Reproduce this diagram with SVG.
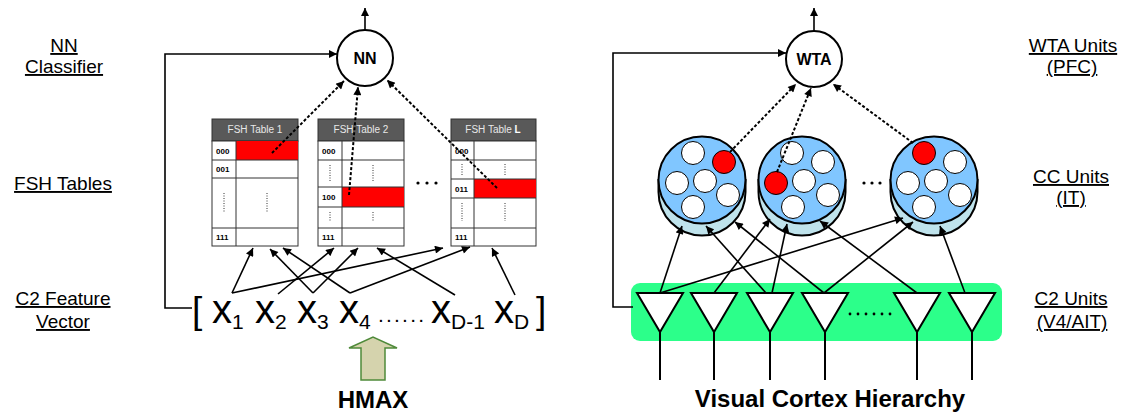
<svg xmlns="http://www.w3.org/2000/svg" width="1123" height="416" viewBox="0 0 1123 416">
<defs>
<style>
.lbl{font-family:"Liberation Sans",Arial,sans-serif;font-size:19px;fill:#000;text-anchor:middle;text-decoration:underline}
.big{font-family:"Liberation Sans",Arial,sans-serif;font-size:24px;font-weight:bold;fill:#000;text-anchor:middle}
.node{fill:#fff;stroke:#000;stroke-width:2}
.ntxt{font-family:"Liberation Sans",Arial,sans-serif;font-size:16px;font-weight:bold;text-anchor:middle}
.hdr{fill:#595959;stroke:#333;stroke-width:1}
.htxt{font-family:"Liberation Sans",Arial,sans-serif;font-size:10px;fill:#e8e8e8;text-anchor:middle}
.body{fill:#fff;stroke:#333;stroke-width:1}
.grid{stroke:#333;stroke-width:1}
.red{fill:#ff0000}
.code{font-family:"Liberation Sans",Arial,sans-serif;font-size:8px;font-weight:bold;fill:#000}
.vd{stroke:#333;stroke-width:1;stroke-dasharray:1 1.5}
.sol{fill:none;stroke:#000;stroke-width:1.6}
.dot{fill:none;stroke:#000;stroke-width:2;stroke-dasharray:3 2}
.vec{font-family:"Liberation Sans",Arial,sans-serif;font-size:40px;fill:#000}
.brk{font-family:"Liberation Sans",Arial,sans-serif;font-size:37px;fill:#000}
.sub{font-family:"Liberation Sans",Arial,sans-serif;font-size:21px;fill:#000}
.cyl{fill:#bfe3ec;stroke:#000;stroke-width:2}
.cct{fill:#80c6ff;stroke:#000;stroke-width:2}
.w{fill:#fff;stroke:#000;stroke-width:1}
.r{fill:#ff0000;stroke:#000;stroke-width:1}
.tri{fill:#fff;stroke:#000;stroke-width:2}
</style>
<marker id="ah" viewBox="0 0 10 10" refX="10" refY="5" markerWidth="10" markerHeight="8" markerUnits="userSpaceOnUse" orient="auto"><path d="M0,0 L10,5 L0,10 z" fill="#000"/></marker>
</defs>
<rect width="1123" height="416" fill="#fff"/>

<!-- Left labels -->
<g id="left-labels">
<text class="lbl" x="64" y="52">NN</text>
<text class="lbl" x="64" y="73">Classifier</text>
<text class="lbl" x="63" y="190">FSH Tables</text>
<text class="lbl" x="63" y="305">C2 Feature</text>
<text class="lbl" x="63" y="328">Vector</text>
</g>
<g id="right-labels">
<text class="lbl" x="1073" y="52">WTA Units</text>
<text class="lbl" x="1072" y="73">(PFC)</text>
<text class="lbl" x="1071" y="183">CC Units</text>
<text class="lbl" x="1071" y="204">(IT)</text>
<text class="lbl" x="1071" y="305">C2 Units</text>
<text class="lbl" x="1072" y="328">(V4/AIT)</text>
</g>

<!-- NN node -->
<g id="nn">
<circle class="node" cx="365" cy="58" r="28"/>
<text class="ntxt" x="365" y="64">NN</text>
</g>

<!-- FSH tables -->
<g id="table1">
<rect class="hdr" x="212" y="119" width="86" height="22"/>
<text class="htxt" x="255" y="133">FSH Table 1</text>
<rect class="body" x="212" y="141" width="86" height="105"/>
<rect class="red" x="236" y="141" width="62" height="19"/>
<line class="grid" x1="212" y1="160" x2="298" y2="160"/>
<line class="grid" x1="212" y1="178" x2="298" y2="178"/>
<line class="grid" x1="212" y1="228" x2="298" y2="228"/>
<line class="grid" x1="236" y1="141" x2="236" y2="246"/>
<text class="code" x="216" y="154">000</text>
<text class="code" x="216" y="172">001</text>
<text class="code" x="216" y="240">111</text>
<line class="vd" x1="224" y1="193" x2="224" y2="212"/>
<line class="vd" x1="267" y1="193" x2="267" y2="212"/>
</g>
<g id="table2">
<rect class="hdr" x="318" y="119" width="86" height="22"/>
<text class="htxt" x="361" y="133">FSH Table 2</text>
<rect class="body" x="318" y="141" width="86" height="105"/>
<rect class="red" x="342" y="187" width="62" height="20"/>
<line class="grid" x1="318" y1="160" x2="404" y2="160"/>
<line class="grid" x1="318" y1="187" x2="404" y2="187"/>
<line class="grid" x1="318" y1="207" x2="404" y2="207"/>
<line class="grid" x1="318" y1="228" x2="404" y2="228"/>
<line class="grid" x1="342" y1="141" x2="342" y2="246"/>
<text class="code" x="322" y="154">000</text>
<text class="code" x="322" y="200">100</text>
<text class="code" x="322" y="240">111</text>
<line class="vd" x1="330" y1="165" x2="330" y2="182"/>
<line class="vd" x1="373" y1="165" x2="373" y2="182"/>
<line class="vd" x1="330" y1="212" x2="330" y2="222"/>
<line class="vd" x1="373" y1="212" x2="373" y2="222"/>
</g>
<g id="table-dots">
<circle cx="418" cy="183" r="1.6"/>
<circle cx="427" cy="183" r="1.6"/>
<circle cx="436" cy="183" r="1.6"/>
</g>
<g id="tableL">
<rect class="hdr" x="451" y="119" width="85" height="22"/>
<text class="htxt" x="493" y="133">FSH Table <tspan font-weight="bold" fill="#fff">L</tspan></text>
<rect class="body" x="451" y="141" width="85" height="105"/>
<rect class="red" x="474" y="179" width="62" height="19"/>
<line class="grid" x1="451" y1="160" x2="536" y2="160"/>
<line class="grid" x1="451" y1="179" x2="536" y2="179"/>
<line class="grid" x1="451" y1="198" x2="536" y2="198"/>
<line class="grid" x1="451" y1="228" x2="536" y2="228"/>
<line class="grid" x1="474" y1="141" x2="474" y2="246"/>
<text class="code" x="455" y="154">000</text>
<text class="code" x="455" y="192">011</text>
<text class="code" x="455" y="240">111</text>
<line class="vd" x1="462" y1="164" x2="462" y2="175"/>
<line class="vd" x1="505" y1="164" x2="505" y2="175"/>
<line class="vd" x1="462" y1="203" x2="462" y2="221"/>
<line class="vd" x1="505" y1="203" x2="505" y2="221"/>
</g>

<!-- feature vector -->
<g id="vector">
<text class="brk" x="192" y="323">[</text>
<text class="vec" x="212" y="323">x</text><text class="sub" x="232" y="329">1</text>
<text class="vec" x="255" y="323">x</text><text class="sub" x="275" y="329">2</text>
<text class="vec" x="297" y="323">x</text><text class="sub" x="317" y="329">3</text>
<text class="vec" x="339" y="323">x</text><text class="sub" x="359" y="329">4</text>
<text class="sub" x="378" y="322" textLength="46" lengthAdjust="spacing">......</text>
<text class="vec" x="431" y="323">x</text><text class="sub" x="451" y="329">D-1</text>
<text class="vec" x="494" y="323">x</text><text class="sub" x="514" y="329">D</text>
<text class="brk" x="536" y="323">]</text>
</g>

<g id="hmax">
<path d="M361,380 L361,348 L349,348 L373,337 L397,348 L385,348 L385,380 Z" fill="#d5d3ad" stroke="#4f8a3a" stroke-width="1.5"/>
<text class="big" x="373" y="408">HMAX</text>
</g>

<!-- Right side -->
<g id="wta">
<circle class="node" cx="814" cy="59" r="28"/>
<text class="ntxt" x="814" y="65">WTA</text>
</g>

<g id="cc1">
<path class="cyl" d="M658.5,180 L658.5,192 A43.5,43.5 0 0 0 745.5,192 L745.5,180 Z"/>
<circle class="cct" cx="702" cy="180" r="43.5"/>
<circle class="w" cx="693" cy="153" r="11.5"/>
<circle class="r" cx="724" cy="162" r="11.5"/>
<circle class="w" cx="677" cy="183" r="11.5"/>
<circle class="w" cx="705" cy="181" r="11.5"/>
<circle class="w" cx="728" cy="195" r="11.5"/>
<circle class="w" cx="693" cy="207" r="11.5"/>
</g>
<g id="cc2">
<path class="cyl" d="M758.5,180 L758.5,192 A43.5,43.5 0 0 0 845.5,192 L845.5,180 Z"/>
<circle class="cct" cx="802" cy="180" r="43.5"/>
<circle class="w" cx="792" cy="153" r="11.5"/>
<circle class="w" cx="823" cy="162" r="11.5"/>
<circle class="r" cx="776" cy="183" r="11.5"/>
<circle class="w" cx="804" cy="181" r="11.5"/>
<circle class="w" cx="828" cy="195" r="11.5"/>
<circle class="w" cx="793" cy="207" r="11.5"/>
</g>
<g id="cc-dots">
<circle cx="864" cy="183" r="1.6"/>
<circle cx="872" cy="183" r="1.6"/>
<circle cx="880" cy="183" r="1.6"/>
</g>
<g id="cc3">
<path class="cyl" d="M890.5,180 L890.5,192 A43.5,43.5 0 0 0 977.5,192 L977.5,180 Z"/>
<circle class="cct" cx="934" cy="180" r="43.5"/>
<circle class="r" cx="924" cy="153" r="11.5"/>
<circle class="w" cx="955" cy="162" r="11.5"/>
<circle class="w" cx="908" cy="183" r="11.5"/>
<circle class="w" cx="936" cy="181" r="11.5"/>
<circle class="w" cx="960" cy="195" r="11.5"/>
<circle class="w" cx="924" cy="207" r="11.5"/>
</g>

<g id="c2-units">
<rect x="631" y="283" width="371" height="58" rx="9" fill="#2cff8a"/>
<path class="tri" d="M637,293 L683,293 L660,332 Z"/>
<path class="tri" d="M691,293 L737,293 L714,332 Z"/>
<path class="tri" d="M747,293 L793,293 L770,332 Z"/>
<path class="tri" d="M802,293 L848,293 L825,332 Z"/>
<path class="tri" d="M894,293 L940,293 L917,332 Z"/>
<path class="tri" d="M949,293 L995,293 L972,332 Z"/>
<g stroke="#000" stroke-width="2">
<line x1="660" y1="332" x2="660" y2="380"/>
<line x1="714" y1="332" x2="714" y2="380"/>
<line x1="770" y1="332" x2="770" y2="380"/>
<line x1="825" y1="332" x2="825" y2="380"/>
<line x1="917" y1="332" x2="917" y2="380"/>
<line x1="972" y1="332" x2="972" y2="380"/>
</g>
<g fill="#000">
<circle cx="850" cy="314" r="1.4"/><circle cx="858" cy="314" r="1.4"/><circle cx="866" cy="314" r="1.4"/>
<circle cx="874" cy="314" r="1.4"/><circle cx="882" cy="314" r="1.4"/><circle cx="890" cy="314" r="1.4"/>
</g>
<text class="big" x="830" y="407">Visual Cortex Hierarchy</text>
</g>

<!-- Connectors -->
<g id="connectors">
<line class="sol" x1="365" y1="30" x2="365" y2="8" marker-end="url(#ah)"/>
<polyline class="sol" points="192,308 165,308 165,54 337,54" marker-end="url(#ah)"/>
<line class="dot" x1="272" y1="153" x2="344" y2="81" marker-end="url(#ah)"/>
<line class="dot" x1="349" y1="195" x2="358" y2="87" marker-end="url(#ah)"/>
<line class="dot" x1="497" y1="188" x2="387" y2="80" marker-end="url(#ah)"/>

<line class="sol" x1="232" y1="293" x2="253" y2="248" marker-end="url(#ah)"/>
<line class="sol" x1="232" y1="293" x2="443" y2="248" marker-end="url(#ah)"/>
<line class="sol" x1="278" y1="294" x2="334" y2="248" marker-end="url(#ah)"/>
<line class="sol" x1="313" y1="293" x2="358" y2="248" marker-end="url(#ah)"/>
<line class="sol" x1="313" y1="293" x2="270" y2="249" marker-end="url(#ah)"/>
<line class="sol" x1="350" y1="293" x2="283" y2="248" marker-end="url(#ah)"/>
<line class="sol" x1="350" y1="293" x2="470" y2="247" marker-end="url(#ah)"/>
<line class="sol" x1="455" y1="295" x2="377" y2="248" marker-end="url(#ah)"/>
<line class="sol" x1="515" y1="295" x2="492" y2="248" marker-end="url(#ah)"/>

<line class="sol" x1="814" y1="31" x2="814" y2="8" marker-end="url(#ah)"/>
<polyline class="sol" points="633,307 613,307 613,53 786,53" marker-end="url(#ah)"/>
<line class="dot" x1="730" y1="152" x2="796" y2="84" marker-end="url(#ah)"/>
<line class="dot" x1="777" y1="172" x2="811" y2="88" marker-end="url(#ah)"/>
<line class="dot" x1="913" y1="143" x2="833" y2="84" marker-end="url(#ah)"/>

<line class="sol" x1="660" y1="293" x2="682" y2="226" marker-end="url(#ah)"/>
<line class="sol" x1="660" y1="293" x2="903" y2="218" marker-end="url(#ah)"/>
<line class="sol" x1="714" y1="293" x2="770" y2="219" marker-end="url(#ah)"/>
<line class="sol" x1="766" y1="293" x2="706" y2="226" marker-end="url(#ah)"/>
<line class="sol" x1="772" y1="293" x2="787" y2="224" marker-end="url(#ah)"/>
<line class="sol" x1="824" y1="293" x2="735" y2="222" marker-end="url(#ah)"/>
<line class="sol" x1="824" y1="293" x2="913" y2="222" marker-end="url(#ah)"/>
<line class="sol" x1="917" y1="293" x2="820" y2="221" marker-end="url(#ah)"/>
<line class="sol" x1="965" y1="293" x2="940" y2="226" marker-end="url(#ah)"/>
</g>
</svg>
